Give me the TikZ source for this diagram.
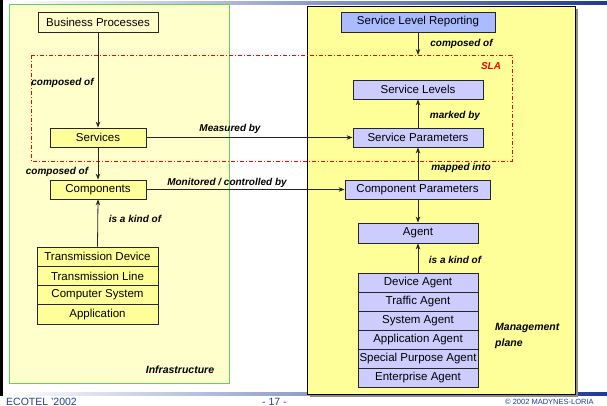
\documentclass[tikz,border=0pt]{standalone}
\usepackage{fontspec}
\setmainfont{Liberation Sans}
\usetikzlibrary{arrows.meta}
\definecolor{paleyel}{HTML}{FFFFCC}
\definecolor{yel}{HTML}{FFFF99}
\definecolor{lav}{HTML}{CCCCFF}
\definecolor{slrblue}{HTML}{AABBFF}
\definecolor{grn}{HTML}{66CC66}
\definecolor{navy}{HTML}{1F3A93}
\definecolor{footblue}{HTML}{1F3F99}
\begin{document}
\begin{tikzpicture}[x=1pt,y=-1pt,
  box/.style={draw=black!85, line width=0.8pt, inner sep=0pt, font=\fontsize{11.5}{12}\selectfont},
  ybox/.style={box, fill=yel},
  bbox/.style={box, fill=lav},
  lbl/.style={font=\fontsize{10}{11}\selectfont\bfseries\itshape, inner sep=0pt},
  conn/.style={draw=black!85, line width=0.8pt, -{Stealth[length=6pt,width=4.5pt]}},
  foot/.style={text=footblue, inner sep=0pt, anchor=base west}
]
\useasboundingbox (0,0) rectangle (607,406);
\fill[white] (0,0) rectangle (607,406);
% decorations
\fill[black] (0,0) rectangle (3,396);
\shade[left color=white, right color=navy] (10,2) rectangle (607,4.5);
\shade[left color=white, right color=navy] (4,392) rectangle (607,395.5);
% panels
\fill[paleyel] (9,5) rectangle (229,383);
\draw[grn, line width=1pt] (9,5) rectangle (229,383);
\fill[black!45] (309.5,9.5) rectangle (577.5,396.5);
\fill[yel] (307,7) rectangle (575,394);
\draw[black, line width=1pt] (307,7) rectangle (575,394);
% SLA frame
\draw[red, line width=0.6pt, dash pattern=on 4pt off 2pt on 1pt off 2pt] (31,55) rectangle (512,161);
\coordinate (slatop) at (418,55);
% left nodes
\node[box, fill=paleyel, minimum width=120pt, minimum height=20pt] (bp) at (98,22) {Business Processes};
\node[ybox, minimum width=96pt, minimum height=19pt] (serv) at (98,137.5) {Services};
\node[ybox, minimum width=96pt, minimum height=19pt] (comp) at (98,189.5) {Components};
\node[ybox, minimum width=121pt, minimum height=19.3pt] (t1) at (97.5,256.6) {Transmission Device};
\node[ybox, minimum width=121pt, minimum height=19.3pt] (t2) at (97.5,275.9) {Transmission Line};
\node[ybox, minimum width=121pt, minimum height=19.3pt] (t3) at (97.5,295.1) {Computer System};
\node[ybox, minimum width=121pt, minimum height=19.3pt] (t4) at (97.5,314.4) {Application};
% right nodes
\node[box, fill=slrblue, minimum width=154pt, minimum height=20pt] (slr) at (418,22) {Service Level Reporting};
\node[bbox, minimum width=130pt, minimum height=19pt] (sl) at (418,89.5) {Service Levels};
\node[bbox, minimum width=130pt, minimum height=19pt] (sp) at (418,137.5) {Service Parameters};
\node[bbox, minimum width=145pt, minimum height=19pt] (cp) at (417.5,189.5) {Component Parameters};
\node[bbox, minimum width=120pt, minimum height=20pt] (agent) at (418,233) {Agent};
\node[bbox, minimum width=120pt, minimum height=19pt] (a1) at (418,282.5) {Device Agent};
\node[bbox, minimum width=120pt, minimum height=19pt] (a2) at (418,301.5) {Traffic Agent};
\node[bbox, minimum width=120pt, minimum height=19pt] (a3) at (418,320.5) {System Agent};
\node[bbox, minimum width=120pt, minimum height=19pt] (a4) at (418,339.5) {Application Agent};
\node[bbox, minimum width=120pt, minimum height=19pt] (a5) at (418,358.5) {Special Purpose Agent};
\node[bbox, minimum width=120pt, minimum height=19pt] (a6) at (418,377.5) {Enterprise Agent};
% connectors
\draw[conn] (bp) -- (serv);
\draw[conn] (serv) -- (comp);
\draw[conn] (t1.north) -- (comp.south);
\draw[conn] (serv.east) -- (sp.west);
\draw[conn] (comp.east) -- (cp.west);
\draw[conn] (slr.south) -- (slatop);
\draw[conn] (sp) -- (sl);
\draw[conn] (cp.north -| sp.south) -- (sp.south);
\draw[conn] (cp.south -| agent.north) -- (agent.north);
\draw[conn] (a1.north) -- (agent.south);
% labels
\node[lbl] (l1) at (62.5,83) {composed of};
\node[lbl] (l2) at (57,172) {composed of};
\node[lbl] (l3) at (135,219) {is a kind of};
\node[lbl] (l4) at (230,129) {Measured by};
\node[lbl] (l5) at (227,183) {Monitored / controlled by};
\node[lbl, font=\fontsize{10.5}{11}\selectfont\bfseries\itshape] (l6) at (180,370) {Infrastructure};
\node[lbl] (l7) at (461.5,44) {composed of};
\node[lbl, text=red] (l8) at (491,66) {SLA};
\node[lbl] (l9) at (455,116) {marked by};
\node[lbl] (l10) at (461,168) {mapped into};
\node[lbl] (l11) at (455,260) {is a kind of};
\node[lbl, anchor=west, align=left, font=\fontsize{10.5}{16}\selectfont\bfseries\itshape] (l12) at (495,336) {Management\\plane};
% footer
\node[foot, font=\fontsize{10.5}{12}\selectfont] (f1) at (6,405) {ECOTEL '2002};
\node[foot, font=\fontsize{10.5}{12}\selectfont] (f2) at (262,405) {- 17 -};
\node[foot, font=\fontsize{7.5}{9}\selectfont] (f3) at (505,404.5) {© 2002 MADYNES-LORIA};
\end{tikzpicture}
\end{document}
